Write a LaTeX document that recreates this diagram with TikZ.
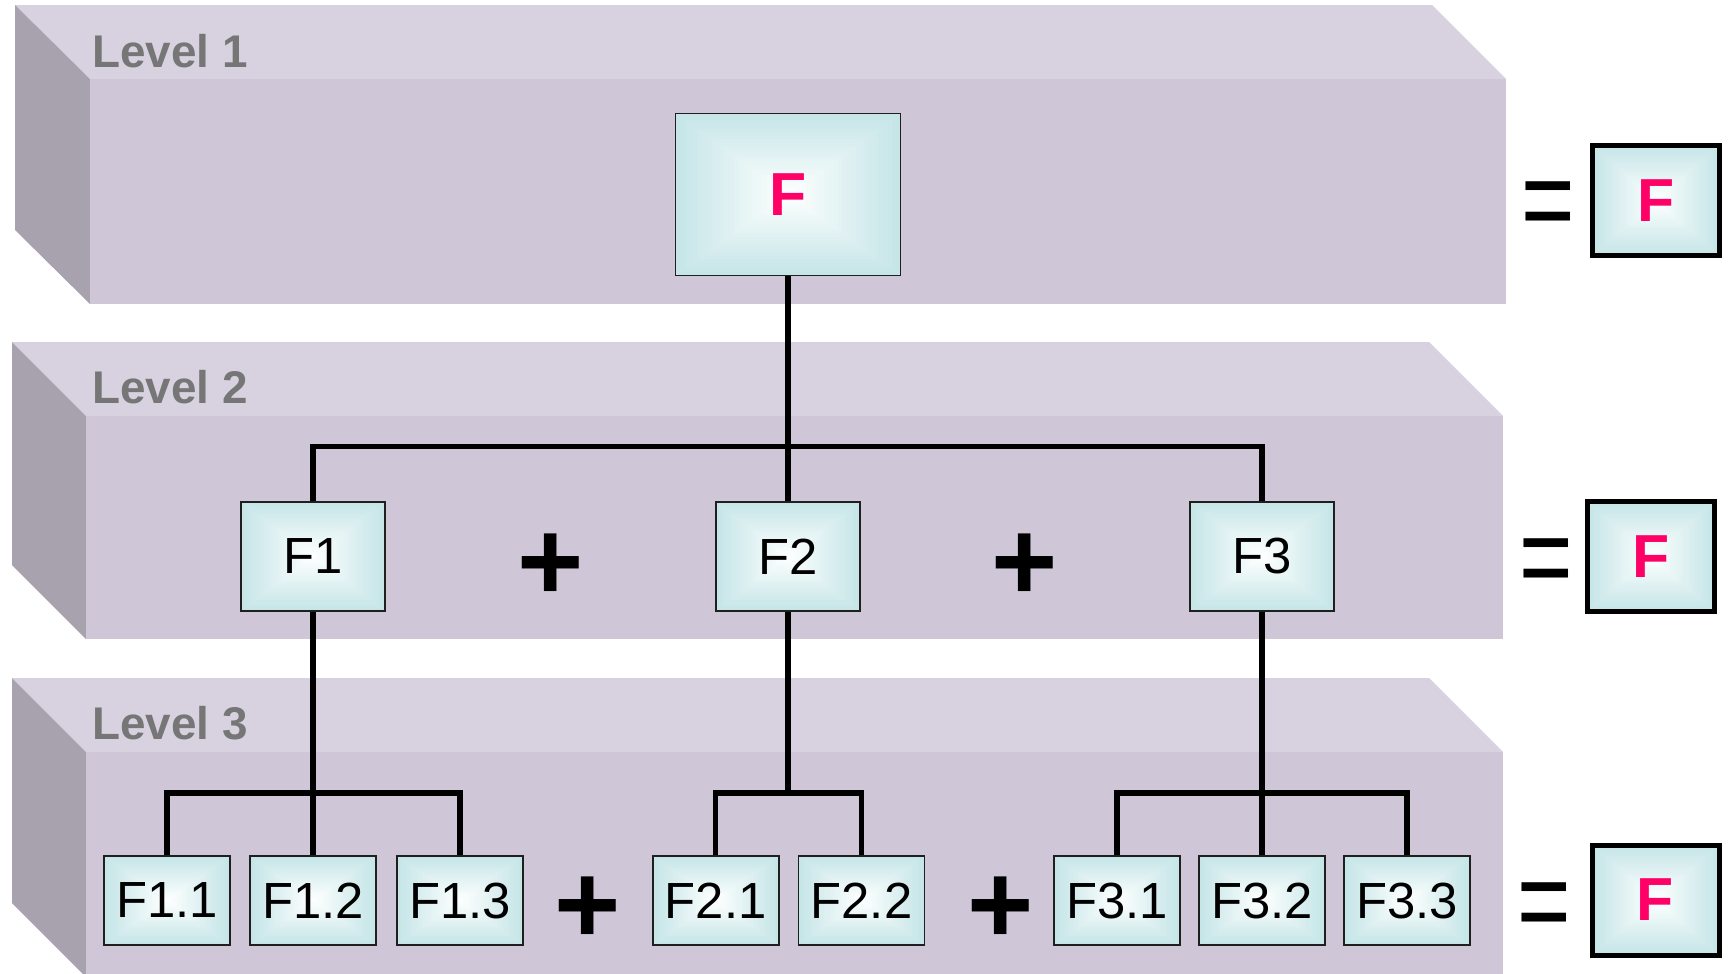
\documentclass[tikz,border=0pt]{standalone}
\usepackage{fontspec}
\setmainfont{Liberation Sans}
\usetikzlibrary{calc}
\definecolor{topface}{HTML}{D8D2E0}
\definecolor{frontface}{HTML}{CFC6D8}
\definecolor{sideface}{HTML}{A8A1AE}
\definecolor{boxcyan}{HTML}{C5E5E7}
\definecolor{accentpink}{HTML}{FF0066}
\definecolor{levelgray}{HTML}{767676}
\newcommand\pinkF{{\bfseries\fontsize{61}{61}\selectfont\color{accentpink}F}}
\newcommand\eqglyph{\scalebox{1}[1.33]{=}}
\tikzset{
  gradfill/.style={path picture={
    \foreach \k in {0,...,24}{
      \pgfmathsetmacro\f{\k/50}
      \pgfmathtruncatemacro\p{4*\k}
      \fill[white!\p!boxcyan]
        ($(path picture bounding box.north west)!\f!(path picture bounding box.south east)$)
        rectangle
        ($(path picture bounding box.south east)!\f!(path picture bounding box.north west)$);
    }}},
  fbox/.style={gradfill, draw=black!88, line width=1.7bp, inner sep=0pt,
    font=\fontsize{51}{51}\selectfont},
  topbox/.style={fbox, minimum width=225bp, minimum height=162bp},
  midbox/.style={fbox, minimum width=144.5bp, minimum height=109.5bp},
  lowbox/.style={fbox, minimum width=126bp, minimum height=89.5bp},
  result/.style={gradfill, draw=black, line width=5bp, inner sep=0pt,
    minimum width=127bp, minimum height=110bp},
  conn/.style={line width=5.2bp, draw=black},
  toplight/.style={fill=topface},
  frontlight/.style={fill=frontface},
  sidedark/.style={fill=sideface},
  levellabel/.style={anchor=base west, inner sep=0pt, text=levelgray,
    font=\bfseries\fontsize{46}{46}\selectfont},
  plussign/.style={anchor=base, inner sep=0pt, font=\bfseries\fontsize{114}{114}\selectfont},
  eqsign/.style={anchor=base, inner sep=0pt, font=\fontsize{92}{92}\selectfont}
}
\begin{document}
\begin{tikzpicture}[x=1bp,y=-1bp]
\useasboundingbox (0,0) rectangle (1728,973);
% ---- slab 1
\fill[toplight] (15,5) -- (1432,5) -- (1506,79) -- (90,79) -- cycle;
\fill[sidedark] (15,5) -- (90,79) -- (90,304) -- (15,230) -- cycle;
\fill[frontlight] (90,79) rectangle (1506,304);
% ---- slab 2
\fill[toplight] (12,342) -- (1429,342) -- (1503,416) -- (86,416) -- cycle;
\fill[sidedark] (12,342) -- (86,416) -- (86,639) -- (12,565) -- cycle;
\fill[frontlight] (86,416) rectangle (1503,639);
% ---- slab 3
\fill[toplight] (12,678) -- (1429,678) -- (1503,752) -- (86,752) -- cycle;
\fill[sidedark] (12,678) -- (86,752) -- (86,977) -- (12,903) -- cycle;
\fill[frontlight] (86,752) rectangle (1503,977);
% ---- level labels
\node[levellabel] (L1) at (92,67) {Level 1};
\node[levellabel] (L2) at (92,403) {Level 2};
\node[levellabel] (L3) at (92,739) {Level 3};
% ---- junction heights
\coordinate (j2) at (0,446.5);
\coordinate (j3) at (0,793);
% ---- boxes
\node[topbox] (F) at (788,194.5) {\pinkF};
\node[midbox] (F1) at (313,556.5) {F1};
\node[midbox] (F2) at (788,556.5) {F2};
\node[midbox] (F3) at (1262,556.5) {F3};
\node[lowbox] (F11) at (167,900.5) {F1.1};
\node[lowbox] (F12) at (313,900.5) {F1.2};
\node[lowbox] (F13) at (460,900.5) {F1.3};
\node[lowbox] (F21) at (715.7,900.5) {F2.1};
\node[lowbox] (F22) at (861.5,900.5) {F2.2};
\node[lowbox] (F31) at (1117,900.5) {F3.1};
\node[lowbox] (F32) at (1262,900.5) {F3.2};
\node[lowbox] (F33) at (1407,900.5) {F3.3};
% ---- connectors
\draw[conn] (F.south) -- (F2.north);
\draw[conn] (F1.north) -- (F1.north |- j2) -- (F3.north |- j2) -- (F3.north);
\draw[conn] (F1.south) -- (F12.north);
\draw[conn] (F11.north) -- (F11.north |- j3) -- (F13.north |- j3) -- (F13.north);
\draw[conn] (F2.south) -- (F2.south |- j3);
\draw[conn] (F21.north) -- (F21.north |- j3) -- (F22.north |- j3) -- (F22.north);
\draw[conn] (F3.south) -- (F32.north);
\draw[conn] (F31.north) -- (F31.north |- j3) -- (F33.north |- j3) -- (F33.north);
% ---- plus signs
\node[plussign] (p21) at (551,600) {+};
\node[plussign] (p22) at (1025,600) {+};
\node[plussign] (p31) at (588,943) {+};
\node[plussign] (p32) at (1000.5,943) {+};
% ---- equals and results
\node[eqsign] (e1) at (1548,241.5) {\eqglyph};
\node[eqsign] (e2) at (1546,598) {\eqglyph};
\node[eqsign] (e3) at (1544,942) {\eqglyph};
\node[result] (R1) at (1656,200.5) {\pinkF};
\node[result] (R2) at (1651,556.5) {\pinkF};
\node[result] (R3) at (1655.5,900) {\pinkF};
\end{tikzpicture}
\end{document}
